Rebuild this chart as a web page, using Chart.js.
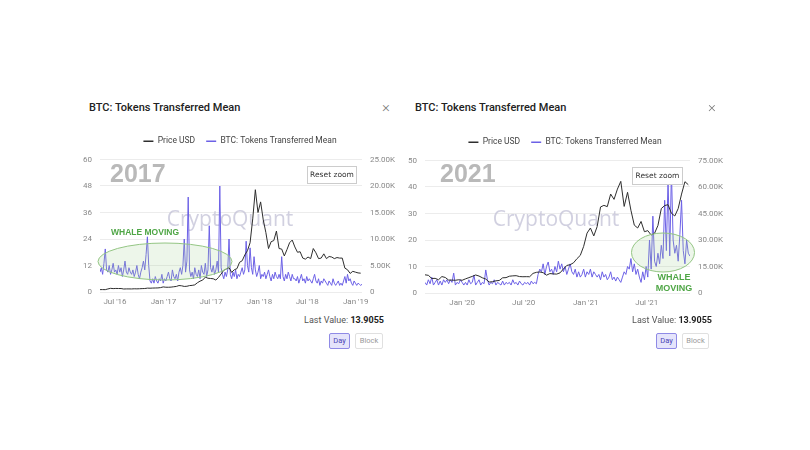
<!DOCTYPE html>
<html>
<head>
<meta charset="utf-8">
<script src="https://cdn.jsdelivr.net/npm/chart.js@4.4.0/dist/chart.umd.min.js"></script>
<style>
  body { margin: 0; width: 810px; height: 450px; background: #fff; position: relative; overflow: hidden;
         font-family: Roboto, "Open Sans", sans-serif; }
  .title { position: absolute; top: 100px; font-size: 11px; line-height: 16px; font-weight: 500; color: #222; }
  .close { position: absolute; top: 98px; font-size: 15px; line-height: 18px; font-weight: 300; color: #777; }
  .cv { position: absolute; width: 330px; height: 186px; }
  .last { position: absolute; top: 313px; font-size: 9px; line-height: 14px; color: #555; text-align: right; }
  .last b { color: #222; font-weight: 700; }
  .btn { position: absolute; top: 333px; height: 16px; line-height: 14px; font-size: 7.5px; text-align: center;
         border: 1px solid #e0e0e0; border-radius: 2px; color: #999; box-sizing: border-box; background: #fff; }
  .btn.on { background: #e5e4fb; border-color: #8f8ae6; color: #4a44b5; }
</style>
</head>
<body>
<div class="title" style="left:89px">BTC: Tokens Transferred Mean</div>
<div class="close" style="left:382px">×</div>
<div class="cv" style="left:75px; top:126px"><canvas id="left"></canvas></div>
<div class="last" style="right:426px">Last Value: <b>13.9055</b></div>
<div class="btn on" style="left:329px; width:21px">Day</div>
<div class="btn" style="left:355px; width:28px">Block</div>

<div class="title" style="left:415px">BTC: Tokens Transferred Mean</div>
<div class="close" style="left:708px">×</div>
<div class="cv" style="left:400px; top:127px"><canvas id="right"></canvas></div>
<div class="last" style="right:98px">Last Value: <b>13.9055</b></div>
<div class="btn on" style="left:656px; width:21px">Day</div>
<div class="btn" style="left:682px; width:27px">Block</div>

<script>
// ---- 2017 panel ----
const leftTokenStart = '2016-05-05';
const leftTokenStep = 5; // days
const leftTokens = [
  9, 11, 8, 13, 19.5, 10, 9, 12, 8, 10, 13, 9,
  10, 8, 12, 9, 11, 7, 10, 14, 9, 8, 11, 9,
  8, 10, 7, 9, 12, 8, 6, 9, 11, 14, 10, 17,
  25, 12,
  5, 4, 6, 4, 7, 5, 4, 6, 5, 8, 4, 6,
  5, 7, 9, 6, 5, 10, 7, 6, 8, 5, 9, 11,
  8, 12, 24, 9, 14, 43, 10, 7, 9, 6, 11, 8,
  7, 10, 6, 12, 9, 8, 13, 7, 10, 30, 11, 9,
  12, 8, 10, 14, 9, 48, 11, 8, 6, 9, 7, 10,
  24,
  8, 6, 9, 7, 10, 6, 8, 7, 9, 11, 8, 10,
  23,
  12, 9, 20, 11, 8, 16, 10, 7, 9, 12, 6, 8,
  7, 9, 6, 8, 10, 7, 5, 8, 6, 9, 7, 6,
  8, 6, 16, 7, 5, 8, 6, 9, 7, 5, 8, 6,
  6, 5, 7, 4, 6, 8, 5, 6, 4, 7, 5, 6,
  5, 4, 6, 8, 5, 4, 6, 3, 5, 4, 6, 5,
  4, 3, 5, 4, 3, 6, 4, 3, 4, 5, 3, 4,
  3, 5, 7, 4, 8, 5, 6, 4, 3, 5, 4, 3,
  4, 3.5, 3, 3.5
];
const leftPriceStart = '2016-05-05';
const leftPriceStep = 10;
const leftPrice = [
  450, 455, 445, 575, 690, 640, 670, 660, 655, 565,
  585, 585, 575, 610, 595, 615, 640, 655, 730, 715,
  740, 755, 770, 830, 960, 900, 895, 920, 990, 1050,
  1220, 1170, 1050, 1080, 1210, 1250, 1350, 1750, 2050, 2250,
  2800, 2600, 2550, 2500, 2250, 2750, 3400, 4100, 4350, 4600,
  3700, 4200, 4400, 5600, 5900, 7000, 7800, 9300, 13800, 19300,
  15000, 17000, 13600, 11200, 8200, 9500, 9700, 11500, 8200, 8100,
  6800, 8000, 9300, 9800, 8500, 7500, 7600, 6400, 6200, 6600,
  6300, 8200, 7400, 6300, 6400, 7200, 6300, 6700, 6600, 6300,
  6500, 6400, 6400, 4500, 4200, 3500, 3900, 3750, 3600, 3550
];
const leftTickDates = ['2016-07-01', '2017-01-01', '2017-07-01', '2018-01-01', '2018-07-01', '2019-01-01'];
const leftTickLabels = ["Jul '16", "Jan '17", "Jul '17", "Jan '18", "Jul '18", "Jan '19"];

// ---- 2021 panel ----
const rightTokenStart = '2019-09-13';
const rightTokenStep = 5;
const rightTokens = [
  4, 3, 5, 3.5, 6, 3, 4, 5, 3, 4.5, 3, 5,
  4, 5, 3.5, 5, 4, 7.5, 3, 4, 3.5, 5, 4, 3,
  4, 3, 5, 3.5, 4, 6.8, 3, 4, 5, 3, 4, 3.5,
  8.7,
  5, 3, 4, 3.5, 5, 3, 4, 3.5, 3, 4.5, 3, 4,
  3.5, 4, 3, 5, 3.5, 4, 3, 4.5, 3.5, 3, 4, 3.5,
  4, 3, 4.5, 3.5, 4, 3.5,
  7, 9, 8, 11, 7, 10, 11.7, 8, 9, 7, 10, 8,
  12, 9, 11, 8, 10, 7, 9, 11, 8, 7, 9, 6,
  8, 6, 7, 9, 6, 8, 7, 9, 6, 8, 7, 6,
  7, 5, 8, 6, 7, 5, 6, 8, 5, 6, 4.5, 6,
  5, 4, 6, 8, 7, 10, 9, 13, 8, 11, 7, 9,
  6, 4, 8, 5, 10, 6, 20,
  9, 29, 12, 10, 15, 11, 18, 13, 35, 16, 43, 14,
  46, 20, 15, 18, 12, 22, 35, 16, 11, 20, 15, 13.9
];
const rightPriceStart = '2019-09-13';
const rightPriceStep = 10;
const rightPrice = [
  10300, 10000, 8200, 8300, 7500, 9300, 8800, 7300, 7300, 7200,
  7500, 7200, 8000, 8700, 9400, 10200, 9600, 8600, 7900, 6200,
  6400, 6900, 7100, 8600, 8700, 9500, 9700, 9800, 9300, 9200,
  9250, 9200, 11100, 11700, 11900, 11500, 10100, 11000, 10800, 10700,
  11400, 13600, 15600, 16000, 17100, 19400, 21300, 26400, 33900, 36800,
  32300, 37600, 48700, 49600, 48900, 56000, 53000, 58800, 63200, 49000,
  57000, 46800, 38400, 36800, 40500, 34700, 35300, 32800, 33800, 38200,
  47800, 49500, 50000, 45100, 43600, 47800, 56000, 63000, 61300
];
const rightTickDates = ['2020-01-01', '2020-07-01', '2021-01-01', '2021-07-01'];
const rightTickLabels = ["Jan '20", "Jul '20", "Jan '21", "Jul '21"];

const DAY = 86400000;
const toDay = s => Date.parse(s) / DAY;
const series = (start, step, vals) => vals.map((v, i) => ({ x: toDay(start) + i * step, y: v }));

const PURPLE = '#6c61e6';
const PRICE = '#2e2e2e';
const TICK_FONT = { family: 'Roboto, "Open Sans", sans-serif', size: 8 };

// year label, watermark, whale ellipse and reset-zoom button
const overlay = {
  id: 'overlay',
  beforeDatasetsDraw(chart, args, o) {
    const ctx = chart.ctx;
    ctx.save();
    ctx.textBaseline = 'alphabetic';
    ctx.fillStyle = '#b9b9b9';
    ctx.font = 'bold 25px "Liberation Sans", Arial, sans-serif';
    ctx.textAlign = 'left';
    ctx.fillText(o.year, o.yearX, o.yearY);
    ctx.fillStyle = 'rgba(198, 196, 216, 0.8)';
    ctx.font = '21px "Open Sans", sans-serif';
    ctx.textAlign = 'center';
    ctx.fillText('CryptoQuant', o.markX, o.markY);
    ctx.restore();
  },
  afterDatasetsDraw(chart, args, o) {
    const ctx = chart.ctx;
    ctx.save();
    ctx.beginPath();
    ctx.ellipse(o.ell[0], o.ell[1], o.ell[2], o.ell[3], 0, 0, Math.PI * 2);
    ctx.fillStyle = 'rgba(165, 212, 150, 0.2)';
    ctx.fill();
    ctx.strokeStyle = '#93c583';
    ctx.lineWidth = 1;
    ctx.stroke();

    ctx.textBaseline = 'alphabetic';
    ctx.fillStyle = '#4fa646';
    ctx.font = 'bold ' + o.whaleSize + 'px "Liberation Sans", Arial, sans-serif';
    ctx.textAlign = 'center';
    o.whale.forEach((t, i) => ctx.fillText(t, o.whaleX, o.whaleY + i * 11));

    const [bx, by, bw, bh] = o.reset;
    ctx.fillStyle = '#fff';
    ctx.strokeStyle = '#cccccc';
    ctx.fillRect(bx, by, bw, bh);
    ctx.strokeRect(bx + 0.5, by + 0.5, bw, bh);
    ctx.fillStyle = '#333';
    ctx.font = '7.5px "DejaVu Sans", sans-serif';
    ctx.textBaseline = 'middle';
    ctx.fillText('Reset zoom', bx + bw / 2 + 0.5, by + bh / 2 + 1);
    ctx.restore();
  }
};

// extra room between legend and plot
const legendGap = {
  id: 'legendGap',
  beforeLayout(chart, args, o) {
    const lg = chart.legend;
    if (lg && !lg._gapPatched) {
      const fit = lg.fit;
      lg.fit = function () { fit.call(this); this.height += o.extra; };
      lg._gapPatched = true;
    }
  }
};

function makeChart(id, p) {
  const tickDays = p.tickDates.map(toDay);
  const tokens = series(p.tokenStart, p.tokenStep, p.tokens);
  return new Chart(document.getElementById(id), {
    type: 'line',
    data: {
      datasets: [
        { label: 'Price USD', data: series(p.priceStart, p.priceStep, p.price), yAxisID: 'y1',
          borderColor: PRICE, borderWidth: 1, pointRadius: 0 },
        { label: 'BTC: Tokens Transferred Mean', data: tokens, yAxisID: 'y',
          borderColor: PURPLE, borderWidth: 1, pointRadius: 0 }
      ]
    },
    options: {
      responsive: true,
      maintainAspectRatio: false,
      animation: false,
      devicePixelRatio: 1,
      layout: { padding: 0 },
      scales: {
        x: {
          type: 'linear',
          min: tokens[0].x,
          max: tokens[tokens.length - 1].x,
          afterBuildTicks: ax => { ax.ticks = tickDays.map(v => ({ value: v })); },
          afterFit: ax => { ax.height = 20; },
          grid: { display: false, drawTicks: false },
          border: { display: false },
          ticks: {
            autoSkip: false, maxRotation: 0, padding: 5, color: '#888', font: TICK_FONT,
            callback: v => p.tickLabels[tickDays.indexOf(v)]
          }
        },
        y: {
          position: 'left',
          min: 0, max: p.leftMax,
          afterFit: ax => { ax.width = 25; },
          grid: { color: '#ececec', drawTicks: false },
          border: { display: false },
          ticks: { stepSize: p.leftStep, padding: 8, color: '#888', font: TICK_FONT }
        },
        y1: {
          position: 'right',
          min: 0, max: p.rightMax,
          afterFit: ax => { ax.width = p.rightWidth; },
          grid: { display: false, drawTicks: false },
          border: { display: false },
          ticks: {
            stepSize: p.rightStep, padding: 8, color: '#888', font: TICK_FONT,
            callback: v => v === 0 ? '0' : (v / 1000).toFixed(2) + 'K'
          }
        }
      },
      plugins: {
        tooltip: { enabled: false },
        legend: {
          position: 'top',
          labels: {
            usePointStyle: true, pointStyle: 'line', pointStyleWidth: 10, padding: 11,
            color: '#444', font: { family: 'Roboto, "Open Sans", sans-serif', size: 8.5 },
            generateLabels: c => Chart.defaults.plugins.legend.labels.generateLabels(c)
              .map(l => Object.assign(l, { lineWidth: 1.6 }))
          }
        },
        legendGap: { extra: 4 },
        overlay: p.overlay
      }
    },
    plugins: [legendGap, overlay]
  });
}

makeChart('left', {
  tokenStart: leftTokenStart, tokenStep: leftTokenStep, tokens: leftTokens,
  priceStart: leftPriceStart, priceStep: leftPriceStep, price: leftPrice,
  tickDates: leftTickDates, tickLabels: leftTickLabels,
  leftMax: 60, leftStep: 12, rightMax: 25000, rightStep: 5000, rightWidth: 43,
  overlay: {
    year: '2017', yearX: 35, yearY: 56, markX: 155, markY: 100,
    ell: [90, 135.5, 67, 18.5], whale: ['WHALE MOVING'], whaleX: 70, whaleY: 109, whaleSize: 8.5,
    reset: [232, 40, 49, 17]
  }
});

makeChart('right', {
  tokenStart: rightTokenStart, tokenStep: rightTokenStep, tokens: rightTokens,
  priceStart: rightPriceStart, priceStep: rightPriceStep, price: rightPrice,
  tickDates: rightTickDates, tickLabels: rightTickLabels,
  leftMax: 50, leftStep: 10, rightMax: 75000, rightStep: 15000, rightWidth: 40,
  overlay: {
    year: '2021', yearX: 40, yearY: 55, markX: 156, markY: 99,
    ell: [263, 125.5, 31.5, 19.5], whale: ['WHALE', 'MOVING'], whaleX: 274, whaleY: 153, whaleSize: 9,
    reset: [232, 40, 50, 17]
  }
});
</script>
</body>
</html>
